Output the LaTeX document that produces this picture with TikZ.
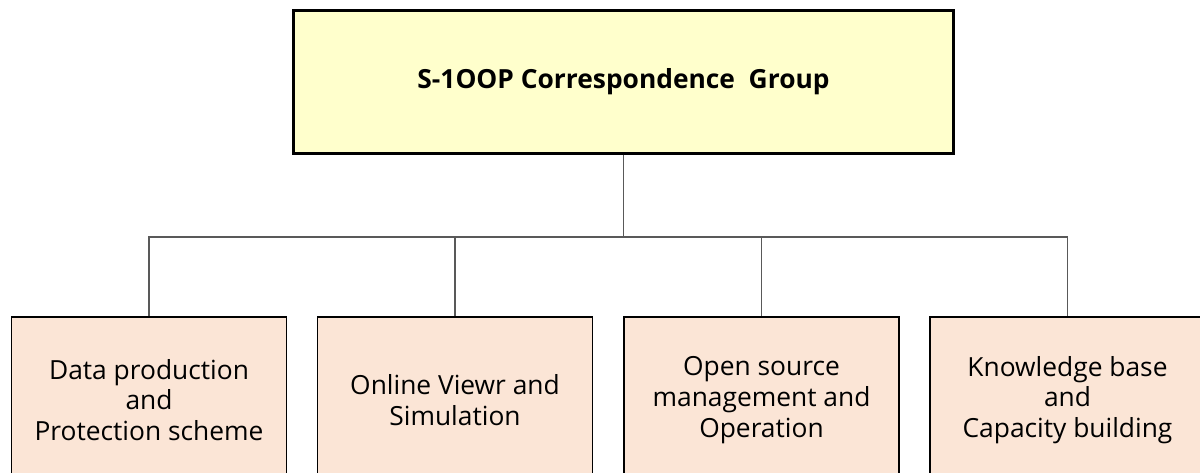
\documentclass[tikz,border=0pt]{standalone}
\usepackage{fontspec}
\setmainfont{Open Sans}
\usetikzlibrary{calc}

\definecolor{groupfill}{HTML}{FFFFCC}
\definecolor{taskfill}{HTML}{FBE5D6}
\definecolor{linkgray}{HTML}{595959}

\begin{document}
\begin{tikzpicture}[x=0.02cm, y=0.02cm, font=\fontsize{15}{17.5}\selectfont,
  groupbox/.style={draw=black, line width=1.5pt, fill=groupfill,
    minimum width=13.2cm, minimum height=2.86cm, font=\fontsize{15}{17}\selectfont\bfseries},
  taskbox/.style={draw=black, line width=0.9pt, fill=taskfill,
    minimum width=5.5cm, minimum height=3.32cm, align=center},
  link/.style={draw=linkgray, line width=0.6pt}]

  % page frame, the lower boxes run off its bottom edge
  \useasboundingbox (0,0) rectangle (1200,473);
  \clip (0,0) rectangle (1200,473);

  % --- top group ---
  \node[groupbox] (group) at (623.5,391) {S-1OOP Correspondence\ \ Group};

  % --- four working tasks ---
  \node[taskbox] (task1) at (149,73)    {Data production\\and\\Protection scheme};
  \node[taskbox] (task2) at (455,73)    {Online Viewr and\\Simulation};
  \node[taskbox] (task3) at (761.5,73)  {Open source\\management and\\Operation};
  \node[taskbox] (task4) at (1067.5,73) {Knowledge base\\and\\Capacity building};

  % horizontal bus between the levels
  \coordinate (bus) at (0,236);

  \foreach \i in {1,...,4}
    \draw[link] (group.south) -- (group.south |- bus) -| (task\i.north);

\end{tikzpicture}
\end{document}
